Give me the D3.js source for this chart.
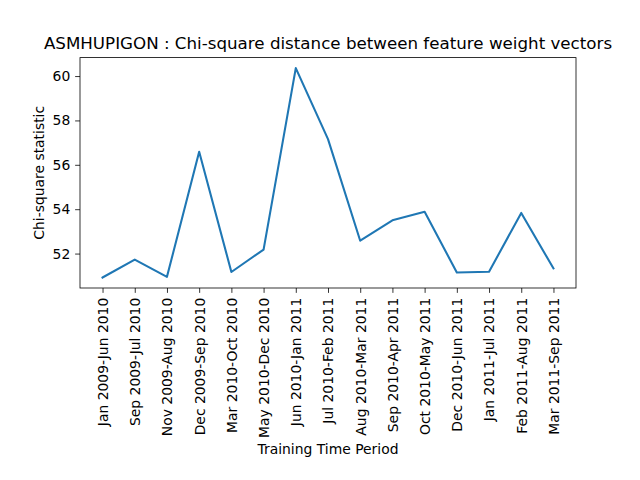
<!DOCTYPE html>
<html>
<head>
<meta charset="utf-8">
<script src="https://cdn.jsdelivr.net/npm/d3@7"></script>
<style>
  html, body { margin: 0; padding: 0; background: #fff; }
  svg text { font-family: "DejaVu Sans", sans-serif; fill: #000; }
  .axis path, .axis line { stroke: #000; stroke-width: 0.8; }
  .axis text { font-size: 13.9px; }
</style>
</head>
<body>
<div id="chart"></div>
<script>
const TITLE = "ASMHUPIGON : Chi-square distance between feature weight vectors";
const X_LABEL = "Training Time Period";
const Y_LABEL = "Chi-square statistic";

const periods = [
  "Jan 2009-Jun 2010", "Sep 2009-Jul 2010", "Nov 2009-Aug 2010",
  "Dec 2009-Sep 2010", "Mar 2010-Oct 2010", "May 2010-Dec 2010",
  "Jun 2010-Jan 2011", "Jul 2010-Feb 2011", "Aug 2010-Mar 2011",
  "Sep 2010-Apr 2011", "Oct 2010-May 2011", "Dec 2010-Jun 2011",
  "Jan 2011-Jul 2011", "Feb 2011-Aug 2011", "Mar 2011-Sep 2011"
];
const chiSquare = [
  50.92, 51.73, 50.95, 56.59, 51.17, 52.18, 60.36, 57.16,
  52.58, 53.50, 53.88, 51.15, 51.18, 53.83, 51.33
];
const yTicks = [52, 54, 56, 58, 60];

const width = 640, height = 480;
const margin = { top: 57.6, right: 64, bottom: 192, left: 80 };
const innerW = width - margin.left - margin.right;
const innerH = height - margin.top - margin.bottom;

const svg = d3.select("#chart").append("svg")
  .attr("width", width).attr("height", height);

const g = svg.append("g")
  .attr("transform", `translate(${margin.left},${margin.top})`);

// matplotlib-style 5% padding on both axes
const n = periods.length;
const xPad = (n - 1) * 0.05;
const x = d3.scaleLinear().domain([-xPad, n - 1 + xPad]).range([0, innerW]);

const [yMin, yMax] = d3.extent(chiSquare);
const yPad = (yMax - yMin) * 0.05;
const y = d3.scaleLinear().domain([yMin - yPad, yMax + yPad]).range([innerH, 0]);

const tickLen = 4.86;

g.append("g")
  .attr("class", "axis x-axis")
  .attr("transform", `translate(0,${innerH})`)
  .call(d3.axisBottom(x)
    .tickValues(d3.range(n))
    .tickFormat(i => periods[i])
    .tickSize(tickLen)
    .tickPadding(4.9))
  .call(s => s.select(".domain").remove())
  .selectAll("text")
  .attr("transform", "rotate(-90)")
  .attr("text-anchor", "end")
  .attr("dy", "0.35em")
  .attr("x", -(tickLen + 4.9))
  .attr("y", 0);

g.append("g")
  .attr("class", "axis y-axis")
  .call(d3.axisLeft(y)
    .tickValues(yTicks)
    .tickSize(tickLen)
    .tickPadding(4.9))
  .call(s => s.select(".domain").remove());

const line = d3.line()
  .x((d, i) => x(i))
  .y(d => y(d));

g.append("path")
  .datum(chiSquare)
  .attr("fill", "none")
  .attr("stroke", "#1f77b4")
  .attr("stroke-width", 2.08)
  .attr("stroke-linejoin", "round")
  .attr("stroke-linecap", "square")
  .attr("d", line);

g.append("rect")
  .attr("width", innerW)
  .attr("height", innerH)
  .attr("fill", "none")
  .attr("stroke", "#000")
  .attr("stroke-width", 0.8);

g.append("text")
  .attr("x", innerW / 2)
  .attr("y", -8.3)
  .attr("text-anchor", "middle")
  .style("font-size", "16.7px")
  .text(TITLE);

g.append("text")
  .attr("x", innerW / 2)
  .attr("y", 396)
  .attr("text-anchor", "middle")
  .style("font-size", "13.9px")
  .text(X_LABEL);

g.append("text")
  .attr("transform", "rotate(-90)")
  .attr("x", -innerH / 2)
  .attr("y", -36)
  .attr("text-anchor", "middle")
  .style("font-size", "13.9px")
  .text(Y_LABEL);
</script>
</body>
</html>
